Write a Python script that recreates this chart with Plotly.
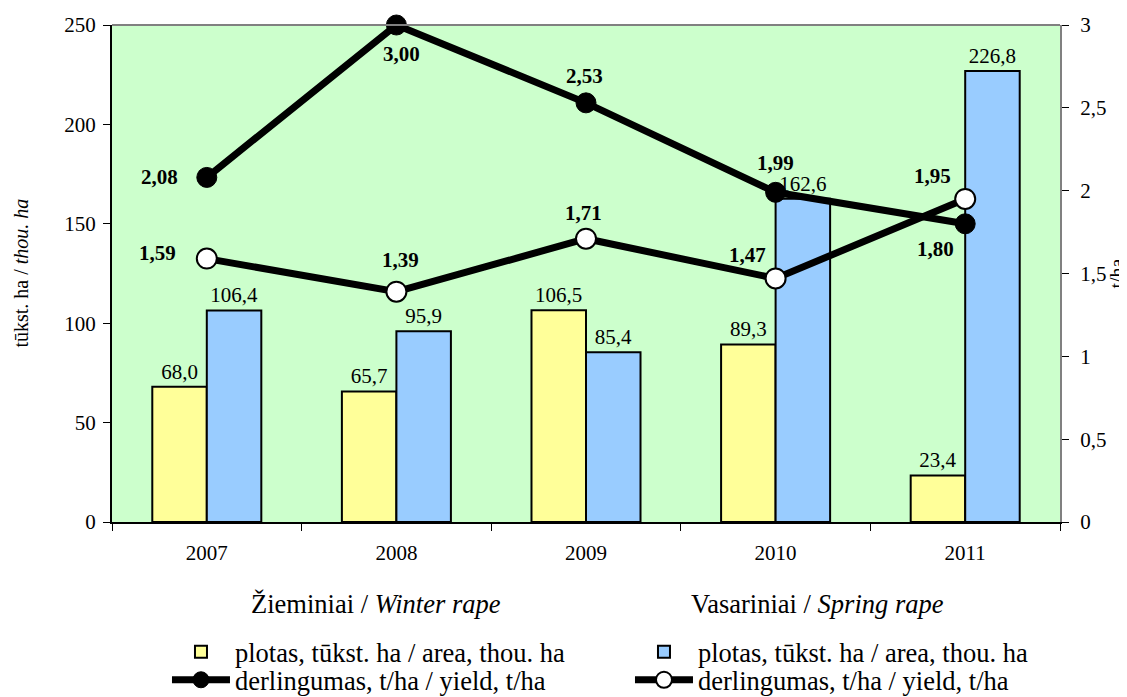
import plotly.graph_objects as go

years = ["2007", "2008", "2009", "2010", "2011"]
winter_area = [68.0, 65.7, 106.5, 89.3, 23.4]
spring_area = [106.4, 95.9, 85.4, 162.6, 226.8]
winter_yield = [2.08, 3.00, 2.53, 1.99, 1.80]
spring_yield = [1.59, 1.39, 1.71, 1.47, 1.95]

# label offsets (pixels) for yield labels
winter_off = [(-47, 0), (5, -29), (-2, 27), (0, 29), (-30, -25)]
spring_off = [(-49, 6), (4, 32), (-3, 26), (-28, 23), (-33, 23)]

FONT = "Liberation Serif, Times New Roman, serif"


def fmt(v, d):
    return f"{v:.{d}f}".replace(".", ",")


fig = go.Figure()
fig.add_trace(go.Bar(
    x=years, y=winter_area, name="plotas, tūkst. ha / area, thou. ha",
    marker=dict(color="#FFFF99", line=dict(color="black", width=2)),
    text=[fmt(v, 1) for v in winter_area], textposition="outside",
    textfont=dict(family=FONT, size=21, color="black"),
    cliponaxis=False, constraintext="none", legend="legend",
))
fig.add_trace(go.Bar(
    x=years, y=spring_area, name="plotas, tūkst. ha / area, thou. ha",
    marker=dict(color="#99CCFF", line=dict(color="black", width=2)),
    text=[fmt(v, 1) for v in spring_area], textposition="outside",
    textfont=dict(family=FONT, size=21, color="black"),
    cliponaxis=False, constraintext="none", legend="legend",
))
fig.add_trace(go.Scatter(
    x=years, y=winter_yield, yaxis="y2", mode="lines+markers",
    name="derlingumas, t/ha / yield, t/ha",
    line=dict(color="black", width=7),
    marker=dict(size=20, color="black", line=dict(color="black", width=1)),
    cliponaxis=False, legend="legend2",
))
fig.add_trace(go.Scatter(
    x=years, y=spring_yield, yaxis="y2", mode="lines+markers",
    name="derlingumas, t/ha / yield, t/ha",
    line=dict(color="black", width=7),
    marker=dict(size=20, color="white", line=dict(color="black", width=2)),
    cliponaxis=False, legend="legend2",
))

annotations = []
for i, (v, (dx, dy)) in enumerate(zip(winter_yield, winter_off)):
    annotations.append(dict(x=i, y=v, xref="x", yref="y2", text=f"<b>{fmt(v, 2)}</b>",
                            showarrow=False, xshift=dx, yshift=dy,
                            font=dict(family=FONT, size=21, color="black")))
for i, (v, (dx, dy)) in enumerate(zip(spring_yield, spring_off)):
    annotations.append(dict(x=i, y=v, xref="x", yref="y2", text=f"<b>{fmt(v, 2)}</b>",
                            showarrow=False, xshift=dx, yshift=dy,
                            font=dict(family=FONT, size=21, color="black")))
annotations.append(dict(x=0.2785, y=-0.165, xref="paper", yref="paper",
                        xanchor="center", yanchor="middle",
                        text="Žieminiai / <i>Winter rape</i>", showarrow=False,
                        font=dict(family=FONT, size=26.5, color="black")))
annotations.append(dict(x=0.7437, y=-0.165, xref="paper", yref="paper",
                        xanchor="center", yanchor="middle",
                        text="Vasariniai / <i>Spring rape</i>", showarrow=False,
                        font=dict(family=FONT, size=26.5, color="black")))
# axis titles
annotations.append(dict(x=-0.0970, y=0.5, xref="paper", yref="paper",
                        xanchor="center", yanchor="middle", textangle=-90,
                        text="tūkst. ha / <i>thou. ha</i>", showarrow=False,
                        font=dict(family=FONT, size=20, color="black")))
annotations.append(dict(x=1.0591, y=0.5, xref="paper", yref="paper",
                        xanchor="center", yanchor="middle", textangle=-90,
                        text="t/ha", showarrow=False,
                        font=dict(family=FONT, size=20, color="black")))

legend_common = dict(orientation="h", xanchor="left", yanchor="middle",
                     font=dict(family=FONT, size=26.5, color="black"),
                     entrywidth=390, itemwidth=58, traceorder="normal",
                     bgcolor="rgba(0,0,0,0)", tracegroupgap=0)

# page body has an 8px margin, so the figure is 8px smaller than the window
fig.update_layout(
    width=1119, height=689,
    margin=dict(l=104, r=67, t=17, b=175, autoexpand=False),
    paper_bgcolor="white", plot_bgcolor="#CCFFCC",
    separators=", ",
    font=dict(family=FONT, size=21, color="black"),
    barmode="group", bargap=0.425, bargroupgap=0,
    xaxis=dict(type="category", range=[-0.5, 4.5], tickson="boundaries",
               ticks="outside", ticklen=7, tickangle=0, automargin=False,
               tickcolor="black", showline=True, linecolor="black", linewidth=1.5,
               showgrid=False, ticklabelstandoff=11),
    yaxis=dict(range=[0, 250], dtick=50, ticks="outside", ticklen=7, tickcolor="black",
               showline=True, linecolor="black", linewidth=2, showgrid=False,
               zeroline=False, ticklabelstandoff=3, automargin=False),
    yaxis2=dict(range=[0, 3], dtick=0.5, overlaying="y", side="right", ticks="outside",
                ticklen=7, tickcolor="black", showline=True, linecolor="#808080",
                linewidth=2, showgrid=False, zeroline=False, ticklabelstandoff=7,
                automargin=False),
    shapes=[dict(type="line", xref="paper", yref="paper", x0=0, x1=1, y0=1, y1=1,
                 line=dict(color="#808080", width=2))],
    annotations=annotations,
    showlegend=True,
    legend=dict(x=0.058, y=-0.2616, **legend_common),
    legend2=dict(x=0.058, y=-0.318, **legend_common),
)

fig.write_html("out.html")
